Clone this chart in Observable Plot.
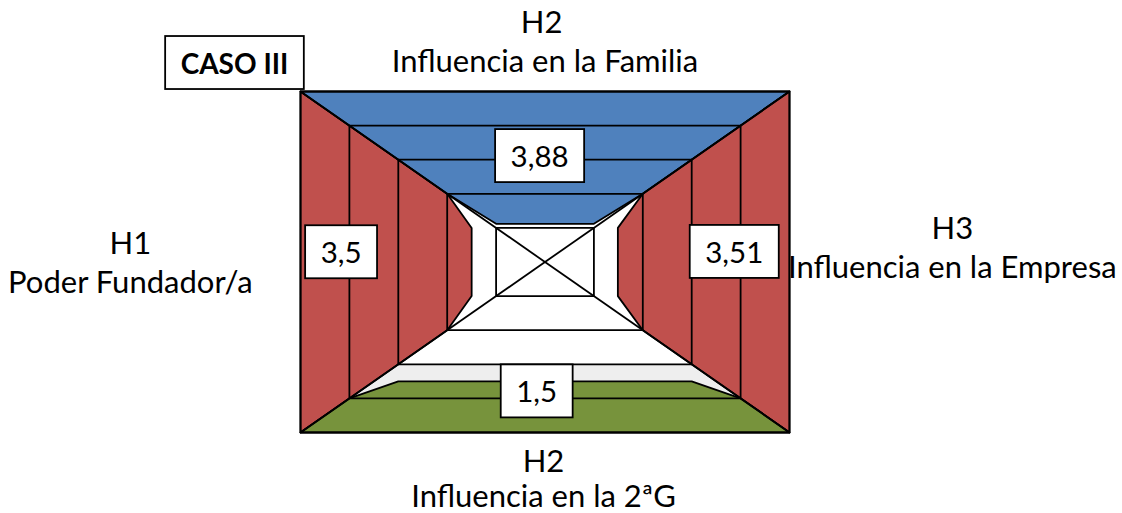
<!DOCTYPE html>
<html>
<head>
<meta charset="utf-8">
<script src="https://cdn.jsdelivr.net/npm/d3@7"></script>
<script src="https://cdn.jsdelivr.net/npm/@observablehq/plot@0.6"></script>
<style>
  html, body { margin: 0; padding: 0; background: #fff; }
  #chart { width: 1122px; height: 513px; }
</style>
</head>
<body>
<div id="chart"></div>
<script>
// ---- data ----
const caseTitle = "CASO III";
const axisSides = ["left", "top", "right", "bottom"];
const axisCodes = ["H1", "H2", "H3", "H2"];
const axisNames = ["Poder Fundador/a", "Influencia en la Familia", "Influencia en la Empresa", "Influencia en la 2ªG"];
const scores = [3.5, 3.88, 3.51, 1.5];
const ringLevels = [0, 1, 2, 3, 4];
const maxLevel = 5;

// ---- styling / layout ----
const sideColors = {left: "#C0504D", top: "#4F81BD", right: "#C0504D", bottom: "#77933C"};
const R = maxLevel;
function pt(side, a, b) {
  // a = depth inward from the outer edge, b = position along the edge
  switch (side) {
    case "left": return {x: -(R - a), y: b};
    case "right": return {x: R - a, y: b};
    case "top": return {x: b, y: R - a};
    case "bottom": return {x: b, y: -(R - a)};
  }
}
const fills = axisSides.map((side, i) => {
  const v = scores[i], k = Math.floor(v);
  const pts = [[0, R], [k, R - k], [v, R - k - 1], [v, -(R - k - 1)], [k, -(R - k)], [0, -R]]
    .map(([a, b]) => ({...pt(side, a, b), side}));
  return {side, pts};
});
const shadeBand = [[1, R - 1], [2, R - 2], [2, -(R - 2)], [1, -(R - 1)]].map(([a, b]) => pt("bottom", a, b));
const rings = ringLevels.flatMap(j => {
  const h = R - j;
  return [[-h, h], [h, h], [h, -h], [-h, -h]].map(([x, y]) => ({x, y, level: j}));
});
const corners = [[-R, R], [R, R], [R, -R], [-R, -R]].map(([x, y]) => ({x, y}));

const labelAnchor = {left: [0.83, 0.24], top: [1.94, -0.11], right: [1.13, 0.25], bottom: [1.16, -0.17]};
const valueLabels = axisSides.map((side, i) => ({
  ...pt(side, ...labelAnchor[side]),
  text: String(scores[i]).replace(".", ",")
}));
const titleAnchor = {
  left: [[-8.48, 0.54], [-8.48, -0.63]],
  top: [[-0.07, 7.02], [0.0, 5.85]],
  right: [[8.33, 0.98], [8.33, -0.19]],
  bottom: [[-0.03, -5.88], [-0.03, -6.9]]
};
const titles = axisSides.flatMap((side, i) => [
  {x: titleAnchor[side][0][0], y: titleAnchor[side][0][1], text: axisCodes[i]},
  {x: titleAnchor[side][1][0], y: titleAnchor[side][1][1], text: axisNames[i]}
]);
const caseLabel = [{x: -6.35, y: 5.79, text: caseTitle}];

const font = "Lato, 'Open Sans', sans-serif";
const sw = 1.8;

const marks = [
  Plot.line(shadeBand, {x: "x", y: "y", fill: "#eeeeee", stroke: "none", curve: "linear-closed"}),
  ...fills.map(f => Plot.line(f.pts, {x: "x", y: "y", fill: sideColors[f.side], stroke: "black", strokeWidth: sw, curve: "linear-closed"})),
  Plot.line(rings, {x: "x", y: "y", z: "level", stroke: "black", strokeWidth: sw, curve: "linear-closed"}),
  Plot.link(corners, {x1: "x", y1: "y", x2: () => 0, y2: () => 0, stroke: "black", strokeWidth: sw}),
  Plot.text(titles, {x: "x", y: "y", text: "text", fontSize: 31, fontFamily: font, fill: "black"}),
  Plot.text(valueLabels, {x: "x", y: "y", text: "text", fontSize: 29.5, fontFamily: font, fill: "black"}),
  Plot.text(caseLabel, {x: "x", y: "y", text: "text", fontSize: 28, fontWeight: "bold", fontFamily: font, fill: "black"})
];

const svg = Plot.plot({
  width: 1122,
  height: 513,
  margin: 0,
  x: {domain: [-R, R], range: [300, 789], axis: null},
  y: {domain: [-R, R], range: [432, 91], axis: null},
  style: {background: "white", overflow: "visible"},
  marks
});
document.getElementById("chart").appendChild(svg);

// white boxes behind the boxed labels
const ns = "http://www.w3.org/2000/svg";
const boxed = new Set([caseTitle, ...valueLabels.map(d => d.text)]);
Array.from(svg.querySelectorAll("text")).forEach(t => {
  if (!boxed.has(t.textContent)) return;
  const bb = t.getBBox();
  const padX = 15.5, h = 53;
  const r = document.createElementNS(ns, "rect");
  r.setAttribute("x", bb.x - padX);
  r.setAttribute("y", bb.y + bb.height / 2 - h / 2);
  r.setAttribute("width", bb.width + 2 * padX);
  r.setAttribute("height", h);
  r.setAttribute("fill", "white");
  r.setAttribute("stroke", "black");
  r.setAttribute("stroke-width", sw);
  const tr = t.getAttribute("transform");
  if (tr) r.setAttribute("transform", tr);
  t.parentNode.insertBefore(r, t);
});
</script>
</body>
</html>
